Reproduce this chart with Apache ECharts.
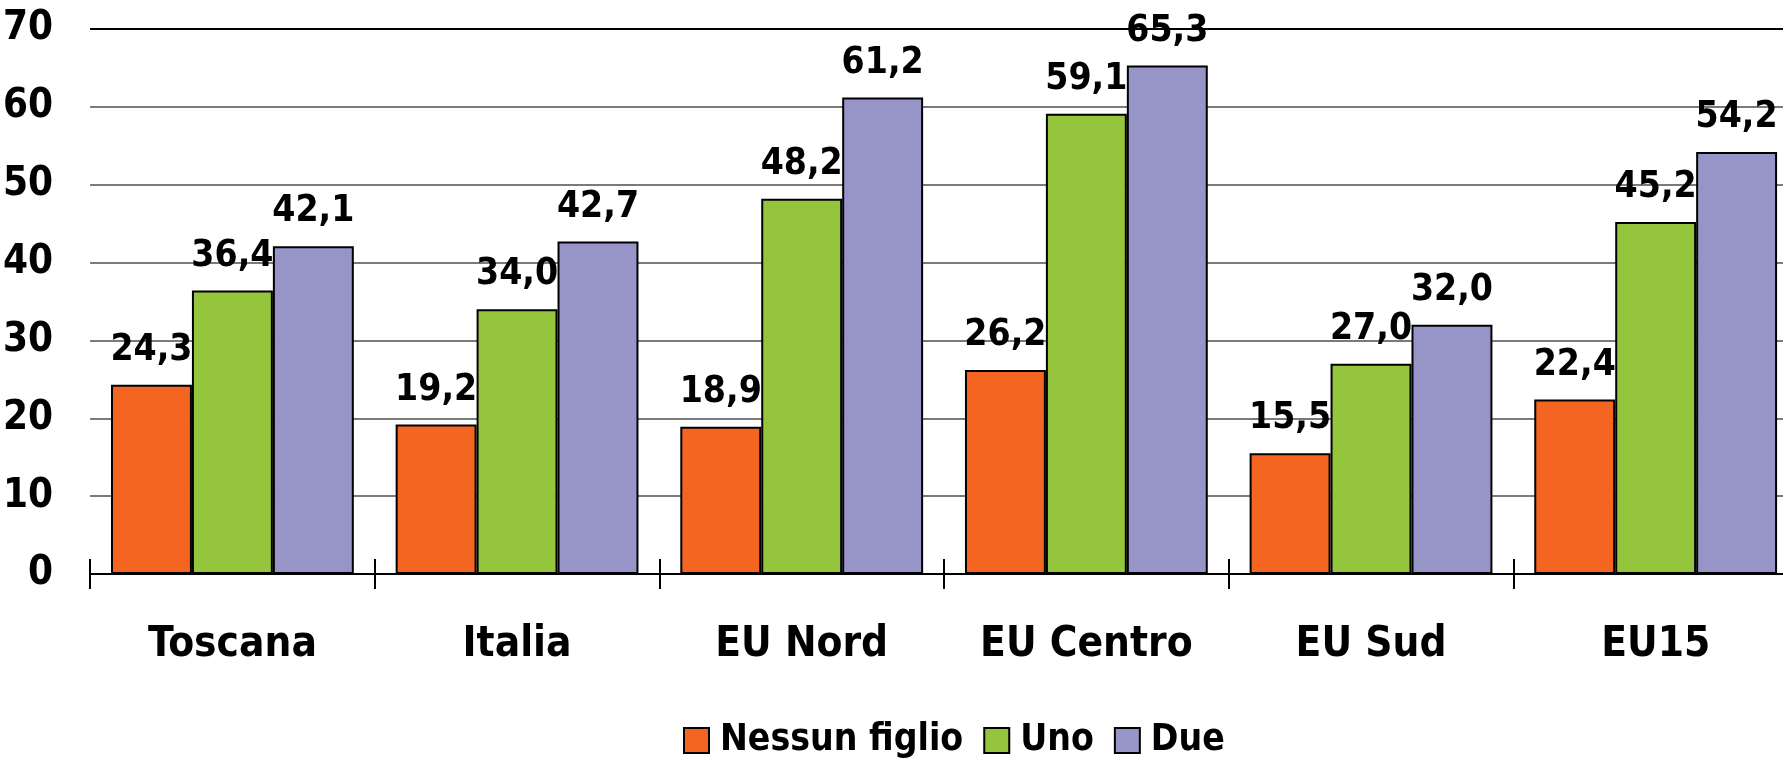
<!DOCTYPE html>
<html><head><meta charset="utf-8">
<script src="https://cdn.jsdelivr.net/npm/echarts@6/dist/echarts.min.js"></script>
<style>html,body{margin:0;padding:0;background:#fff;overflow:hidden}#c{width:1798px;height:760px}</style>
</head><body><div id="c"></div>
<script>
const categories = ['Toscana', 'Italia', 'EU Nord', 'EU Centro', 'EU Sud', 'EU15'];
const seriesNames = ['Nessun figlio', 'Uno', 'Due'];
const nessunFiglio = [24.3, 19.2, 18.9, 26.2, 15.5, 22.4];
const uno = [36.4, 34.0, 48.2, 59.1, 27.0, 45.2];
const due = [42.1, 42.7, 61.2, 65.3, 32.0, 54.2];
const yTicks = [0, 10, 20, 30, 40, 50, 60, 70];

const FONT = "'Liberation Sans Narrow', 'Arial Narrow', 'DejaVu Sans Condensed', sans-serif";
const colors = ['#F46522', '#95C43D', '#9795C8'];
const chart = echarts.init(document.getElementById('c'));
function mk(name, data, color) {
  return {
    name, type: 'bar', data, barGap: '0%', barCategoryGap: '14.7%',
    itemStyle: { color, borderColor: '#000', borderWidth: 2 },
    label: {
      show: true, position: 'top', distance: 16,
      fontFamily: FONT, fontWeight: 'bold', fontSize: 37, color: '#000',
      formatter: p => p.value.toFixed(1).replace('.', ',')
    }
  };
}
chart.setOption({
  animation: false,
  grid: { left: 89, right: 0, top: 29, bottom: 186 },
  legend: {
    data: seriesNames, bottom: -4, left: 678, icon: 'rect',
    itemWidth: 25, itemHeight: 25, itemGap: 20,
    textStyle: { fontFamily: FONT, fontWeight: 'bold', fontSize: 37, color: '#000', padding: [0, 0, 0, 6] }
  },
  xAxis: [{
    type: 'category', data: categories,
    axisLine: { lineStyle: { color: '#000', width: 2 } },
    axisTick: { show: true, interval: 0, length: 15, lineStyle: { color: '#000', width: 2 } },
    axisLabel: { interval: 0, fontFamily: FONT, fontWeight: 'bold', fontSize: 42, color: '#000', margin: 50 }
  }, {
    type: 'category', data: categories, position: 'bottom',
    axisLine: { show: false },
    axisTick: { show: true, interval: 0, inside: true, length: 15, lineStyle: { color: '#000', width: 2 } },
    axisLabel: { show: false }
  }],
  yAxis: {
    type: 'value', min: yTicks[0], max: yTicks[yTicks.length - 1], interval: 10,
    axisLine: { show: false }, axisTick: { show: false },
    splitLine: { lineStyle: { color: ['#000', '#7a7a7a', '#7a7a7a', '#7a7a7a', '#7a7a7a', '#7a7a7a', '#7a7a7a', '#000'], width: 2 } },
    axisLabel: { fontFamily: FONT, fontWeight: 'bold', fontSize: 40, color: '#000', margin: 37, padding: [8, 0, 0, 0] }
  },
  series: [mk(seriesNames[0], nessunFiglio, colors[0]), mk(seriesNames[1], uno, colors[1]), mk(seriesNames[2], due, colors[2])]
});
</script></body></html>
